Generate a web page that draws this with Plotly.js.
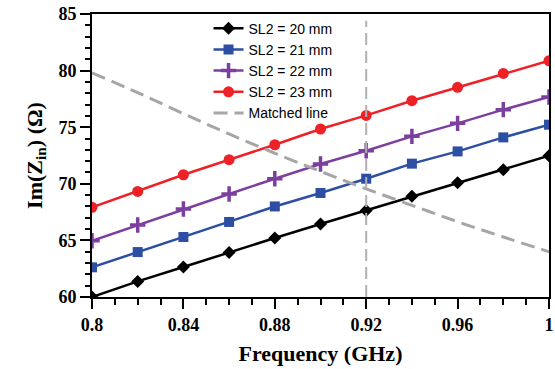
<!DOCTYPE html>
<html>
<head>
<meta charset="utf-8">
<script src="https://cdn.plot.ly/plotly-3.0.1.min.js"></script>
<style>html,body{margin:0;padding:0;background:#fff}#chart{width:555px;height:369px}</style>
</head>
<body>
<div id="chart"></div>
<script>
const freq = [0.80, 0.82, 0.84, 0.86, 0.88, 0.90, 0.92, 0.94, 0.96, 0.98, 1.00];
const sl20 = [60.0, 61.38, 62.65, 63.94, 65.21, 66.45, 67.65, 68.89, 70.1, 71.25, 72.48];
const sl21 = [62.62, 63.97, 65.3, 66.63, 68.0, 69.19, 70.45, 71.78, 72.86, 74.1, 75.22];
const sl22 = [64.97, 66.36, 67.77, 69.1, 70.45, 71.75, 72.92, 74.19, 75.34, 76.55, 77.67];
const sl23 = [67.92, 69.33, 70.8, 72.13, 73.45, 74.84, 76.04, 77.34, 78.52, 79.75, 80.87];
const matched = [79.8, 78.05, 76.2, 74.4, 72.7, 71.1, 69.55, 68.1, 66.65, 65.3, 64.0];
const markerFreq = 0.92;
const names = ["SL2 = 20 mm", "SL2 = 21 mm", "SL2 = 22 mm", "SL2 = 23 mm", "Matched line"];
const xTicks = [0.8, 0.84, 0.88, 0.92, 0.96, 1.0];
const xTickText = ["0.8", "0.84", "0.88", "0.92", "0.96", "1"];
const yTicks = [60, 65, 70, 75, 80, 85];

const series = [
  {y: sl20, color: "#000000", symbol: "diamond", size: 10},
  {y: sl21, color: "#2d4fa3", symbol: "square", size: 10},
  {y: sl22, color: "#7d3f9e", symbol: "cross-thin", size: 11},
  {y: sl23, color: "#ee2226", symbol: "circle", size: 11}
];
const traces = series.map((s, i) => ({
  x: freq, y: s.y, name: names[i], type: "scatter", mode: "lines+markers",
  line: {color: s.color, width: 2.5},
  marker: s.symbol === "cross-thin"
    ? {symbol: s.symbol, size: s.size, color: s.color, line: {color: s.color, width: 3.5}}
    : {symbol: s.symbol, size: s.size, color: s.color}
}));
traces.push({
  x: freq, y: matched, name: names[4], type: "scatter", mode: "lines",
  line: {color: "#a6a6a6", width: 3, dash: "14px,7px", shape: "spline"}
});
traces.push({
  x: [markerFreq, markerFreq], y: [60, 84.4], type: "scatter", mode: "lines",
  showlegend: false, hoverinfo: "skip",
  line: {color: "#b0b0b0", width: 2, dash: "12px,6px"}
});

const serif = "'Liberation Serif', 'Times New Roman', serif";
const tickFont = {family: serif, size: 18, color: "#000", weight: "bold"};
const titleFont = {family: serif, size: 22, color: "#000", weight: "bold"};
const layout = {
  width: 555, height: 369,
  margin: {l: 92, r: 6, t: 14, b: 72},
  paper_bgcolor: "#fff", plot_bgcolor: "#fff",
  showlegend: true,
  legend: {x: 0.255, y: 1.005, xanchor: "left", yanchor: "top",
    font: {family: "'Liberation Sans', Arial, sans-serif", size: 14, color: "#000"},
    bgcolor: "rgba(0,0,0,0)", tracegroupgap: 0, itemwidth: 30},
  xaxis: {
    range: [0.8, 1.0], tickvals: xTicks, ticktext: xTickText,
    ticks: "outside", ticklen: 10, tickwidth: 2, tickcolor: "#000",
    showline: true, linewidth: 2, linecolor: "#000", mirror: true,
    showgrid: false, zeroline: false, tickfont: tickFont,
    minor: {dtick: 0.01, ticks: "outside", ticklen: 6, tickwidth: 2, tickcolor: "#000", showgrid: false},
    title: {text: "Frequency (GHz)", font: titleFont, standoff: 12}
  },
  yaxis: {
    range: [60, 85], tickvals: yTicks,
    ticks: "outside", ticklen: 10, tickwidth: 2, tickcolor: "#000",
    showline: true, linewidth: 2, linecolor: "#000", mirror: true,
    showgrid: false, zeroline: false, tickfont: tickFont,
    minor: {dtick: 1, ticks: "outside", ticklen: 5, tickwidth: 2, tickcolor: "#000", showgrid: false},
    title: {text: "Im(Z<sub>in</sub>) (Ω)", font: titleFont, standoff: 10}
  }
};
Plotly.newPlot("chart", traces, layout, {displayModeBar: false, staticPlot: true});
</script>
</body>
</html>
